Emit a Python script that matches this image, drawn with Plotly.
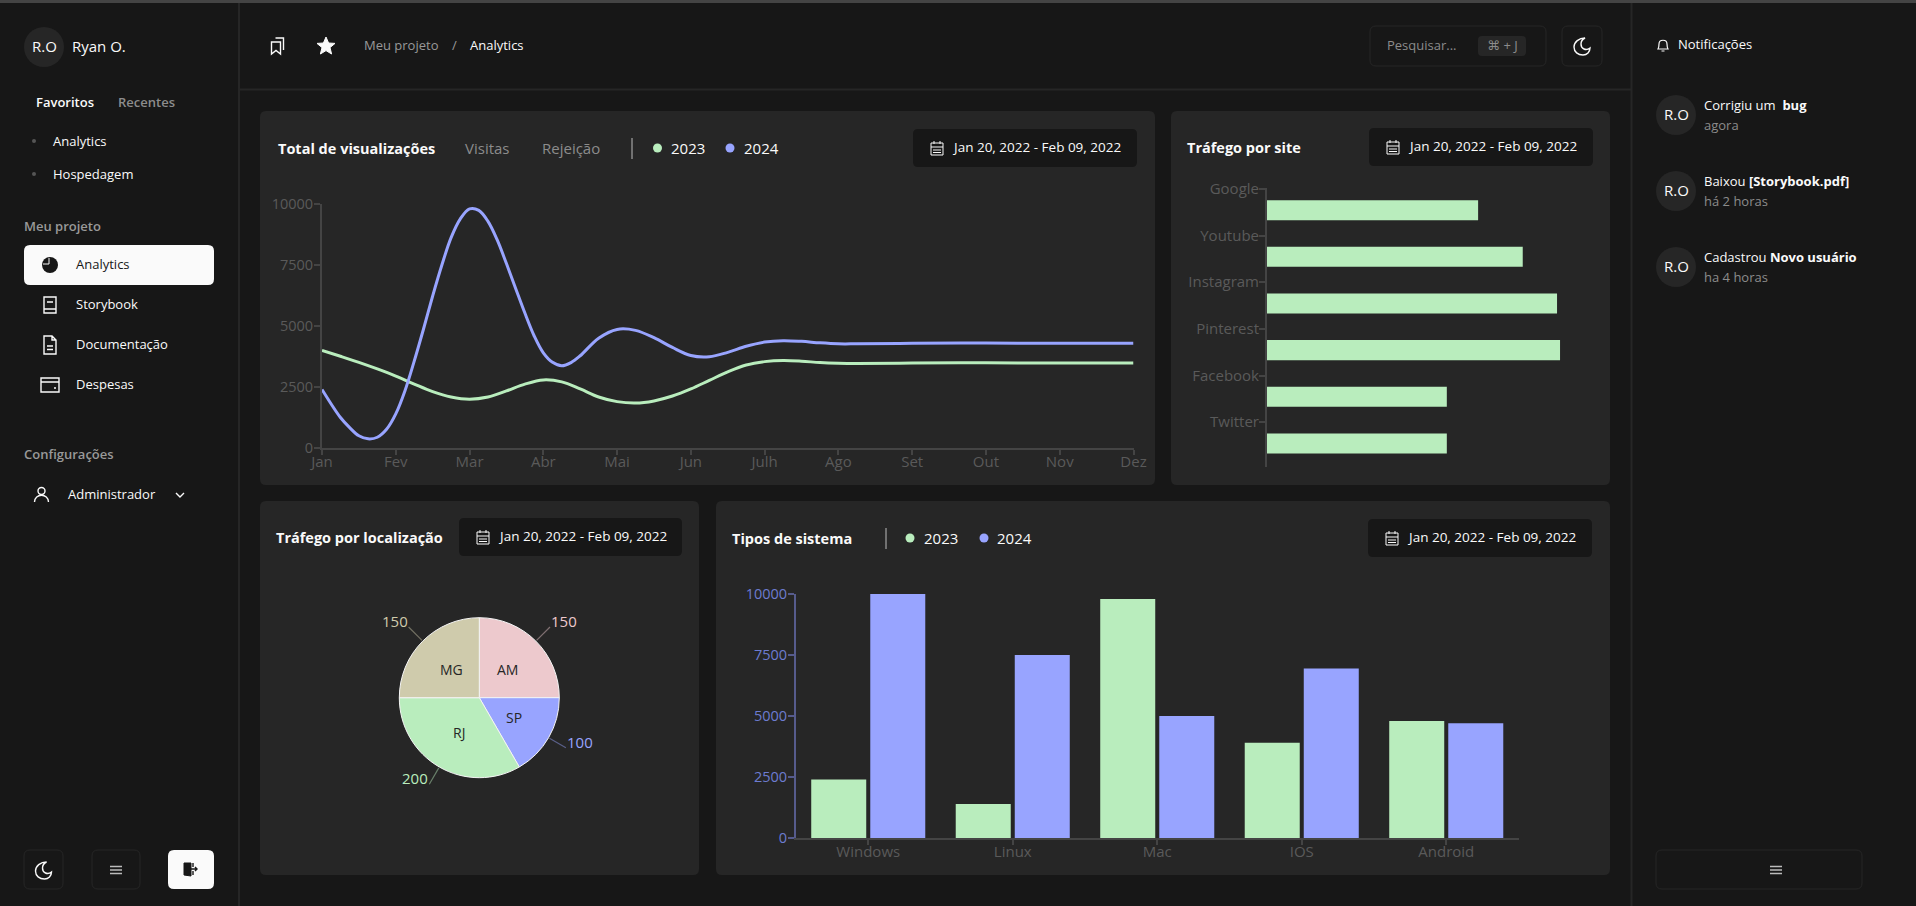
import math
import re
import plotly.graph_objects as go

W, H = 1916, 906

# Line chart, values, finer where the blue one bends hard
month_labels = ["Jan", "Fev", "Mar", "Abr", "Mai", "Jun", "Julh", "Ago", "Set", "Out", "Nov", "Dez"]
pos_2023 = [0, 0.25, 0.5, 0.75, 1, 1.25, 1.5, 1.75, 2, 2.25, 2.5, 2.75, 3, 3.25, 3.5, 3.75, 4, 4.25, 4.5, 4.75,
            5, 5.25, 5.5, 5.75, 6, 6.25, 6.5, 6.75, 7, 7.25, 8, 9, 10, 11]
views_2023 = [4000, 3760, 3510, 3240, 2950, 2620, 2310, 2090, 2000, 2090, 2340, 2620, 2790, 2710, 2420, 2090,
              1900, 1840, 1930, 2130, 2420, 2770, 3120, 3400, 3540, 3590, 3560, 3500, 3470, 3460, 3480, 3490, 3480, 3480]
pos_2024 = [0, 0.25, 0.375, 0.5, 0.625, 0.75, 0.875, 1, 1.125, 1.25, 1.375, 1.5, 1.625, 1.75, 1.875,
            2, 2.125, 2.25, 2.375, 2.5, 2.625, 2.75, 2.875, 3, 3.125, 3.25, 3.375, 3.5, 3.75, 4, 4.25, 4.5, 4.75,
            5, 5.25, 5.5, 5.75, 6, 6.25, 6.5, 6.75, 7, 7.25, 8, 9, 10, 11]
views_2024 = [2400, 1250, 835, 500, 375, 440, 767, 1398, 2349, 3560, 4868, 6230, 7500, 8620, 9390,
              9800, 9740, 9290, 8530, 7560, 6540, 5530, 4601, 3900, 3510, 3370, 3500, 3780, 4500, 4860, 4820, 4520, 4120,
              3790, 3740, 3920, 4170, 4340, 4400, 4370, 4310, 4270, 4270, 4290, 4300, 4290, 4290]

# Traffic per site
sites = ["Google", "Youtube", "Instagram", "Pinterest", "Facebook", "Twitter"]
site_values = [6340, 7680, 8710, 8800, 5400, 5400]

# Traffic per location
locations = ["AM", "SP", "RJ", "MG"]
location_values = [150, 100, 200, 150]
location_colors = ["#EDC9CD", "#98A4FF", "#B9EDBD", "#CFCBAC"]

# System types
systems = ["Windows", "Linux", "Mac", "IOS", "Android"]
systems_2023 = [2400, 1398, 9800, 3908, 4800]
systems_2024 = [10000, 7500, 5000, 6950, 4700]

y_ticks = [0, 2500, 5000, 7500, 10000]
date_range = "Jan 20, 2022 - Feb 09, 2022"

BG = "#171717"
CARD = "#262626"
GREEN = "#B9EDBD"
BLUE = "#98A4FF"
AXIS = "#444444"
TICK = "#5A5A5A"
WHITE = "#FAFAFA"
GRAY = "#8C8C8C"
FONT = "Open Sans, DejaVu Sans, sans-serif"

shapes = []
notes = []


def box(x0, y0, x1, y1, r=6, fill=CARD, line=None):
    path = (f"M{x0+r},{y0} L{x1-r},{y0} Q{x1},{y0} {x1},{y0+r} L{x1},{y1-r} Q{x1},{y1} {x1-r},{y1} "
            f"L{x0+r},{y1} Q{x0},{y1} {x0},{y1-r} L{x0},{y0+r} Q{x0},{y0} {x0+r},{y0} Z")
    shapes.append(dict(type="path", path=path, xref="x", yref="y", layer="below", fillcolor=fill,
                       line=dict(width=1 if line else 0, color=line or fill)))


def dot(x, y, r, fill, line=None):
    shapes.append(dict(type="circle", xref="x", yref="y", layer="below", x0=x-r, x1=x+r, y0=y-r, y1=y+r,
                       fillcolor=fill, line=dict(width=1.4 if line else 0, color=line or fill)))


def seg(x0, y0, x1, y1, color=CARD, width=2, opacity=1):
    shapes.append(dict(type="line", xref="x", yref="y", layer="below", x0=x0, y0=y0, x1=x1, y1=y1,
                       opacity=opacity, line=dict(color=color, width=width)))


def icon(path, x, y, color=WHITE, width=1.4, fill="rgba(0,0,0,0)"):
    # moves an icon path drawn around 0,0 to x,y
    out, is_x = [], True
    for tok in re.findall(r"[A-Z]|-?\d+\.?\d*", path):
        if tok.isalpha():
            out.append(tok)
            is_x = True
        else:
            out.append(str(float(tok) + (x if is_x else y)))
            is_x = not is_x
    shapes.append(dict(type="path", path=" ".join(out), xref="x", yref="y", layer="below",
                       fillcolor=fill, line=dict(color=color, width=width)))


def text(x, y, s, size=13, color=WHITE, anchor="left", weight=None):
    font = dict(family=FONT, size=size, color=color)
    if weight:
        font["weight"] = weight
    notes.append(dict(x=x, y=y - 1, xref="x", yref="y", text=s, showarrow=False, xanchor=anchor,
                      yanchor="middle", font=font, borderpad=0, borderwidth=0))


MOON = "M3,-8 C-3,-8 -8,-4 -8,1 C-8,6 -4,9 1,9 C5,9 8,6 8,2 C4,5 -1,3 -1,-2 C-1,-5 1,-7 3,-8 Z"
CALENDAR = "M-6,-5 L6,-5 L6,7 L-6,7 Z M-6,-1 L6,-1 M-3,-7 L-3,-4 M3,-7 L3,-4 M-4,2 L4,2 M-4,4.5 L4,4.5"
MENU = "M-6,-3.5 L6,-3.5 M-6,0 L6,0 M-6,3.5 L6,3.5"

# page frame
shapes.append(dict(type="rect", xref="x", yref="y", layer="below", x0=0, x1=W, y0=0, y1=3,
                   fillcolor="#444444", line=dict(width=0)))
seg(239, 3, 239, H)
seg(1631.5, 3, 1631.5, H)
seg(240, 89.5, 1631, 89.5)

# cards
box(260, 111, 1155, 485)
box(1171, 111, 1610, 485)
box(260, 501, 699, 875)
box(716, 501, 1610, 875)

# left sidebar
dot(44, 47, 20, CARD)
text(44, 47, "R.O", 15, anchor="center")
text(72, 47, "Ryan O.", 15)
text(36, 103, "Favoritos", 13, weight=600)
text(117.5, 103, "Recentes", 13, GRAY, weight=600)
dot(34, 141, 2, "#555555")
dot(34, 174, 2, "#555555")
text(53, 142, "Analytics", 13)
text(53, 175, "Hospedagem", 13)
text(24, 227, "Meu projeto", 13, "#999999", weight=600)
box(24, 245, 214, 285, fill=WHITE)
dot(50, 265, 8, BG)
icon("M-1,-7 L-1,-1 L-7,-1", 50, 265, WHITE, 1)
text(76, 265, "Analytics", 13, BG)
icon("M-6,-8 L6,-8 L6,8 L-6,8 Z M-6,4 L6,4 M-3,-3 L3,-3", 50, 305)
text(76, 305, "Storybook", 13)
icon("M-6,-9 L2,-9 L6,-5 L6,9 L-6,9 Z M2,-9 L2,-5 L6,-5 M-3,1 L3,1 M-3,4.5 L3,4.5", 50, 345)
text(76, 345, "Documentação", 13)
icon("M-9,-7 L9,-7 L9,7 L-9,7 Z M-9,-3 L9,-3 M4,3 L6,3", 50, 385)
text(76, 385, "Despesas", 13)
text(24, 455, "Configurações", 13, "#999999", weight=600)
dot(41.5, 491, 3.5, "rgba(0,0,0,0)", WHITE)
icon("M-7,11 C-7,2 7,2 7,11", 41.5, 491)
text(68, 495, "Administrador", 13)
icon("M-4,-2 L0,2 L4,-2", 180, 495)
box(24, 850, 63, 889, fill=BG, line=CARD)
icon(MOON, 43.5, 870, WHITE, 1.4)
box(92, 850, 140, 889, fill=BG, line=CARD)
icon(MENU, 116, 870, "#BBBBBB", 1.4)
box(168, 850, 214, 889, fill=WHITE)
icon("M-6,-6 L1,-6 L1,7 L-6,6 Z", 190, 869, BG, 1, BG)
icon("M3,-6 L3,-2 M3,2 L3,6 M1,0 L7,0 M5,-2 L7,0 L5,2", 190, 869, BG, 1.4)

# header
icon("M-6,-4 L3,-4 L3,8 L-1.5,4.5 L-6,8 Z M-2,-8 L6,-8 L6,4", 277.5, 46)
icon("M0,-9 L2.6,-3 L9,-2.6 L4,1.6 L5.6,8 L0,4.6 L-5.6,8 L-4,1.6 L-9,-2.6 L-2.6,-3 Z", 326, 46, WHITE, 1, WHITE)
text(364, 46, "Meu projeto", 13, "#999999")
text(452, 46, "/", 13, "#999999")
text(470, 46, "Analytics", 13)
box(1370, 26, 1546, 66, fill=BG, line=CARD)
text(1387, 46, "Pesquisar...", 13, GRAY)
box(1478, 36, 1526, 56, r=4, fill=CARD)
text(1502, 46, "⌘ + J", 13, GRAY, anchor="center")
box(1562, 26, 1602, 66, fill=BG, line=CARD)
icon(MOON, 1582, 46, WHITE, 1.4)

# right panel
icon("M-5,4 C-4,2 -4,1 -4,-1 C-4,-6 4,-6 4,-1 C4,1 4,2 5,4 Z M-1.5,6 L1.5,6", 1663, 45, WHITE, 1.2)
text(1678, 45, "Notificações", 13)
feed = [("Corrigiu um  <b>bug</b>", "agora", 115),
        ("Baixou <b>[Storybook.pdf]</b>", "há 2 horas", 191),
        ("Cadastrou <b>Novo usuário</b>", "ha 4 horas", 267)]
for line1, line2, yc in feed:
    dot(1676, yc, 20, CARD)
    text(1676, yc, "R.O", 15, anchor="center")
    text(1704, yc - 9, line1, 13)
    text(1704, yc + 11, line2, 13, GRAY)
box(1656, 850, 1862, 889, fill=BG, line=CARD)
icon(MENU, 1776, 870, "#BBBBBB", 1.4)

# card headers
text(277.5, 149, "Total de visualizações", 14.5, weight=700)
text(464.5, 149, "Visitas", 15, GRAY)
text(541.5, 149, "Rejeição", 15, GRAY)
seg(632, 138, 632, 159, "#BBBBBB", 1)
dot(657.5, 148, 4.5, GREEN)
text(671, 149, "2023", 15)
dot(730, 148, 4.5, BLUE)
text(743.5, 149, "2024", 15)
text(1187, 148, "Tráfego por site", 14.5, weight=700)
text(276, 538, "Tráfego por localização", 14.5, weight=700)
text(732, 539, "Tipos de sistema", 14.5, weight=700)
seg(886, 528, 886, 549, "#BBBBBB", 1)
dot(910, 538, 4.5, GREEN)
text(924, 539, "2023", 15)
dot(984, 538, 4.5, BLUE)
text(996.5, 539, "2024", 15)

for x0, y0, x1, y1 in [(913, 129, 1137, 167), (1369, 128, 1593, 166), (459, 518, 682, 556), (1368, 519, 1592, 557)]:
    box(x0, y0, x1, y1, r=5, fill=BG)
    icon(CALENDAR, x0 + 24, (y0 + y1) / 2, WHITE, 1)
    text(x0 + 39, (y0 + y1) / 2, date_range, 13.5)

# pie labels and leader lines come from the slice angles
pie_cx, pie_cy, pie_r = 479.3, 697.7, 80
start = 0
total = sum(location_values)
for name, value, color in zip(locations, location_values, location_colors):
    mid = math.radians(start + value / total * 180)
    start += value / total * 360
    sin_a, cos_a = math.sin(mid), math.cos(mid)
    seg(pie_cx + (pie_r + 1) * sin_a, pie_cy - (pie_r + 1) * cos_a,
        pie_cx + (pie_r + 20) * sin_a, pie_cy - (pie_r + 20) * cos_a, color, 1.2, 0.45)
    x1, y1 = pie_cx + (pie_r + 20) * sin_a, pie_cy - (pie_r + 20) * cos_a
    text(x1 + (1 if sin_a > 0 else -1), y1 - 5, str(value), 15, color, anchor="left" if sin_a > 0 else "right")
    text(pie_cx + 40 * sin_a, pie_cy - 40 * cos_a + 1, name, 14, CARD, anchor="center")

fig = go.Figure()

fig.add_trace(go.Scatter(x=pos_2023, y=views_2023, mode="lines", xaxis="x2", yaxis="y2", name="2023",
                         line=dict(color=GREEN, width=3, shape="spline", smoothing=1, simplify=False)))
fig.add_trace(go.Scatter(x=pos_2024, y=views_2024, mode="lines", xaxis="x2", yaxis="y2", name="2024",
                         line=dict(color=BLUE, width=3, shape="spline", smoothing=1, simplify=False)))
fig.add_trace(go.Bar(x=site_values, y=list(range(len(sites))), orientation="h", xaxis="x3", yaxis="y3",
                     width=0.43, offset=0.24, marker=dict(color=GREEN, line=dict(width=0)), name="Tráfego"))
fig.add_trace(go.Pie(labels=locations, values=location_values, sort=False, direction="clockwise", rotation=0,
                     textinfo="none",
                     marker=dict(colors=location_colors, line=dict(color="#F5F5F5", width=1)),
                     domain=dict(x=[(pie_cx - pie_r) / W, (pie_cx + pie_r) / W],
                                 y=[1 - (pie_cy + pie_r) / H, 1 - (pie_cy - pie_r) / H])))
fig.add_trace(go.Bar(x=systems, y=systems_2023, xaxis="x4", yaxis="y4", name="2023",
                     marker=dict(color=GREEN, line=dict(width=0))))
fig.add_trace(go.Bar(x=systems, y=systems_2024, xaxis="x4", yaxis="y4", name="2024",
                     marker=dict(color=BLUE, line=dict(width=0))))

tick_font = dict(family=FONT, size=15, color=TICK)
axis_style = dict(showgrid=False, zeroline=False, showline=True, linecolor=AXIS, linewidth=2, tickformat="d",
                  ticks="outside", ticklen=6, tickcolor=AXIS, tickwidth=1.5, tickfont=tick_font, fixedrange=True)
number_font = dict(family=FONT, size=14.5, color=TICK)

fig.update_layout(
    template="none",
    width=W, height=H,
    margin=dict(l=0, r=0, t=0, b=0),
    paper_bgcolor=BG, plot_bgcolor="rgba(0,0,0,0)",
    showlegend=False,
    barmode="group", bargap=0.183, bargroupgap=0.068,
    shapes=shapes, annotations=notes,
    # page-pixel canvas for the cards and header, drawn first
    xaxis=dict(domain=[0, 1], range=[0, W], visible=False, fixedrange=True, anchor="y"),
    yaxis=dict(domain=[0, 1], range=[H, 0], visible=False, fixedrange=True, anchor="x"),
    xaxis2=dict(domain=[322 / W, 1133.5 / W], range=[0, 11], anchor="y2", tickvals=list(range(12)),
                ticktext=month_labels, ticklabelstandoff=-6, **{**axis_style, "ticklen": 5}),
    yaxis2=dict(domain=[1 - 448 / H, 1 - 204 / H], range=[0, 10000], anchor="x2", tickvals=y_ticks,
                ticklabelstandoff=-2, **{**axis_style, "tickfont": number_font}),
    xaxis3=dict(domain=[1267 / W, 1600 / W], range=[0, 10000], anchor="y3", visible=False, fixedrange=True),
    yaxis3=dict(domain=[1 - 467 / H, 1 - 188 / H], range=[5.96, -0.02], anchor="x3",
                tickvals=list(range(len(sites))), ticktext=sites, ticklabelstandoff=-3, **axis_style),
    xaxis4=dict(domain=[796 / W, 1518.5 / W], anchor="y4", type="category", categoryorder="array",
                categoryarray=systems, ticklabelstandoff=-6, **{**axis_style, "ticklen": 5}),
    yaxis4=dict(domain=[1 - 838 / H, 1 - 594 / H], range=[0, 10000], anchor="x4", tickvals=y_ticks,
                ticklabelstandoff=-2,
                **{**axis_style, "linecolor": "#565B8C", "tickcolor": "#565B8C",
                   "tickfont": dict(family=FONT, size=14.5, color="#6D7CD0")}),
)

fig.write_html("out.html", config={"responsive": False, "displayModeBar": False},
               post_script="document.body.style.margin='0';document.body.style.overflow='hidden';")
